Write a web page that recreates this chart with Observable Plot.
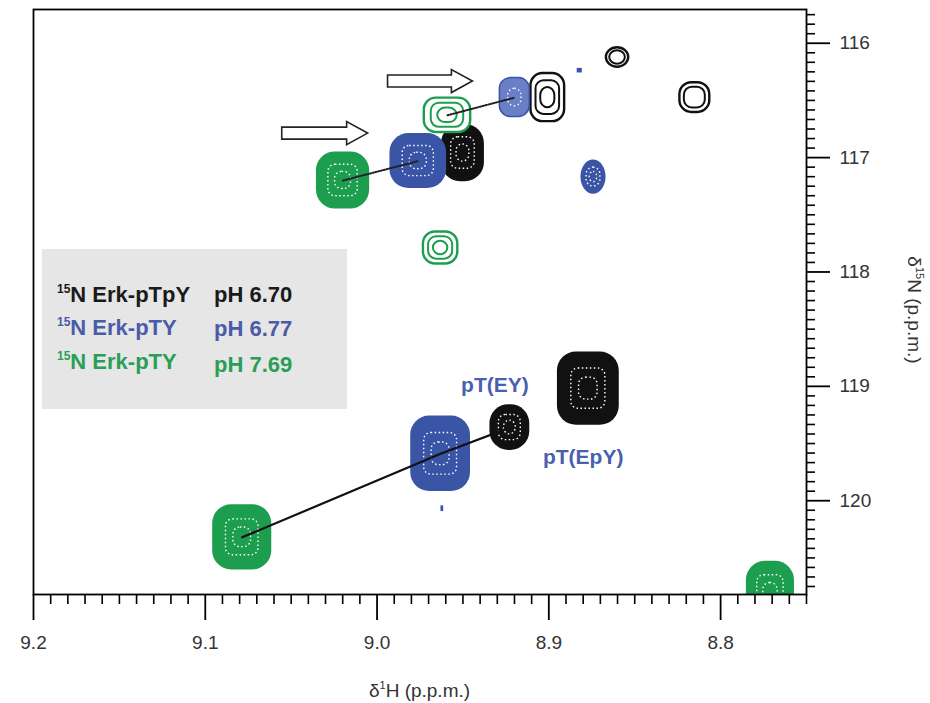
<!DOCTYPE html>
<html><head><meta charset="utf-8">
<script src="https://cdn.jsdelivr.net/npm/d3@7"></script>
<script src="https://cdn.jsdelivr.net/npm/@observablehq/plot@0.6"></script>
<style>
body{margin:0;background:#fff;}
</style></head><body><div id="chart"></div>
<script>
// ---------- data ----------
const sampleNames = ["Erk-pTpY", "Erk-pTY", "Erk-pTY"];
const samplePH = ["pH 6.70", "pH 6.77", "pH 7.69"];

// peak list: sample index, 1H shift, 15N shift, half linewidths (ppm), number of contour levels
const peakSample = [0, 0, 0, 0, 0, 0, 1, 1, 1, 1, 1, 1, 2, 2, 2, 2, 2];
const peakH = [8.860, 8.9006, 8.815, 8.950, 8.877, 8.9227, 8.9198, 8.882, 8.976, 8.874, 8.963, 8.962, 8.959, 9.0198, 8.963, 9.0785, 8.771];
const peakN = [116.125, 116.475, 116.475, 116.96, 119.02, 119.36, 116.475, 116.24, 117.03, 117.17, 119.59, 120.07, 116.63, 117.20, 117.79, 120.32, 120.80];
const peakHalfWH = [0.0065, 0.0098, 0.0087, 0.0125, 0.018, 0.0116, 0.0087, 0.0015, 0.0165, 0.0073, 0.0174, 0.0008, 0.0135, 0.0155, 0.010, 0.0172, 0.014];
const peakHalfWN = [0.085, 0.21, 0.13, 0.25, 0.32, 0.20, 0.17, 0.02, 0.24, 0.15, 0.33, 0.025, 0.15, 0.25, 0.14, 0.285, 0.27];
const peakLevels = [2, 3, 2, 8, 8, 7, 4, 1, 8, 5, 9, 1, 3, 8, 3, 9, 7];

// chemical-shift tracks (peak indices)
const trackPeaks = [[15, 10, 5], [13, 8], [12, 6]];
const trackSolid = [true, false, false];

// arrows (1H start, 1H end, 15N)
const arrowFromH = [8.9936, 9.0552];
const arrowToH = [8.9442, 9.0052];
const arrowN = [116.335, 116.79];

// annotations
const annoText = ["pT(EY)", "pT(EpY)"];
const annoH = [8.9314, 8.880];
const annoN = [118.99, 119.62];

// axes
const xDomain = [9.2, 8.75];
const yDomain = [115.705, 120.82];
const xMajor = [9.2, 9.1, 9.0, 8.9, 8.8];
const yMajor = [116, 117, 118, 119, 120];
const xMinorPerMajor = 10;
const yMinorPerMajor = 12;

// ---------- styles ----------
const sampleColor = ["#111111", "#3b55a6", "#1d9e4f"];
const sampleTextColor = ["#1a1a1a", "#4a5ca8", "#2a9e57"];
const FONT = "'Liberation Sans', Arial, Helvetica, sans-serif";

// ---------- derived contour rectangles ----------
const contourRows = [];
peakH.forEach((h, i) => {
  const L = peakLevels[i], s = peakSample[i];
  const add = (f, kind) => contourRows.push({
    x1: h - peakHalfWH[i] * f, x2: h + peakHalfWH[i] * f,
    y1: peakN[i] - peakHalfWN[i] * f, y2: peakN[i] + peakHalfWN[i] * f,
    s, kind
  });
  if (L === 1) add(1, "tiny");
  else if (L <= 3) {
    [1, 0.7, 0.42].slice(0, L).forEach((f, k) => add(f, k === 0 ? "ringOuter" : "ring"));
  } else if (L <= 4) {
    add(1, "light"); add(0.45, "inner");
  } else {
    add(1, "solid"); add(0.55, "inner"); add(0.3, "inner");
  }
});

const minorX = d3.range(Math.ceil(8.75 * 100), Math.floor(9.2 * 100) + 1)
  .filter(v => v % xMinorPerMajor !== 0).map(v => v / 100);
const minorY = d3.range(Math.ceil(115.705 * yMinorPerMajor), Math.floor(120.82 * yMinorPerMajor) + 1)
  .filter(v => v % yMinorPerMajor !== 0).map(v => v / yMinorPerMajor);

function peakMarks(s) {
  const rows = contourRows.filter(d => d.s === s);
  const c = sampleColor[s];
  const pos = {x1: "x1", x2: "x2", y1: "y1", y2: "y2", clip: true};
  return [
    Plot.rect(rows.filter(d => d.kind === "solid"), {...pos, fill: c, rx: 19}),
    Plot.rect(rows.filter(d => d.kind === "light"), {...pos, fill: s === 1 ? "#6a7fc6" : c, stroke: c, strokeWidth: 1.5, rx: 11}),
    Plot.rect(rows.filter(d => d.kind === "inner"), {...pos, fill: "none", stroke: "white", strokeWidth: 1.4, strokeDasharray: "1.5 2.5", rx: 7}),
    Plot.rect(rows.filter(d => d.kind === "ringOuter"), {...pos, fill: "white", stroke: c, strokeWidth: 2.4, rx: 12}),
    Plot.rect(rows.filter(d => d.kind === "ring"), {...pos, fill: "none", stroke: c, strokeWidth: 2, rx: 8}),
    Plot.rect(rows.filter(d => d.kind === "tiny"), {...pos, fill: c})
  ];
}

const trackRows = trackPeaks.flatMap((t, k) => t.map(i => ({H: peakH[i], N: peakN[i], k})));

function arrowsMark(index, scales) {
  const g = d3.create("svg:g");
  arrowFromH.forEach((h, i) => {
    const x0 = scales.x(h), x1 = scales.x(arrowToH[i]), y = scales.y(arrowN[i]);
    const sh = 6, hh = 11.5, hl = 21, xs = x1 - hl;
    g.append("path")
      .attr("d", `M${x0},${y - sh}L${xs},${y - sh}L${xs},${y - hh}L${x1},${y}L${xs},${y + hh}L${xs},${y + sh}L${x0},${y + sh}Z`)
      .attr("fill", "white").attr("stroke", "#222").attr("stroke-width", 1.6);
  });
  return g.node();
}

function legendMark() {
  const g = d3.create("svg:g").attr("font-family", FONT).attr("font-weight", "bold").attr("text-anchor", "start");
  const x0 = 42, y0 = 249;
  g.append("rect").attr("x", x0).attr("y", y0).attr("width", 305).attr("height", 160).attr("fill", "#e6e6e6");
  const base = [302, 335, 369], basePH = [302, 336, 372];
  sampleNames.forEach((name, i) => {
    const t = g.append("text").attr("x", x0 + 15).attr("y", base[i]).attr("fill", sampleTextColor[i]).attr("font-size", 22);
    t.append("tspan").attr("font-size", 12).attr("dy", -9).text("15");
    t.append("tspan").attr("dy", 9).text("N " + name);
    g.append("text").attr("x", x0 + 172).attr("y", basePH[i]).attr("fill", sampleTextColor[i]).attr("font-size", 22).text(samplePH[i]);
  });
  return g.node();
}

function axisTitlesMark() {
  const g = d3.create("svg:g").attr("font-family", FONT).attr("font-size", 19).attr("fill", "#333").attr("text-anchor", "middle");
  const cx = (33 + 806) / 2;
  const t1 = g.append("text").attr("x", cx).attr("y", 697);
  t1.append("tspan").text("δ");
  t1.append("tspan").attr("font-size", 11).attr("dy", -8).text("1");
  t1.append("tspan").attr("dy", 8).text("H (p.p.m.)");
  const t2 = g.append("text").attr("transform", "translate(908,310) rotate(90)");
  t2.append("tspan").text("δ");
  t2.append("tspan").attr("font-size", 11).attr("dy", -8).text("15");
  t2.append("tspan").attr("dy", 8).text("N (p.p.m.)");
  return g.node();
}

const chart = Plot.plot({
  width: 930,
  height: 703,
  marginLeft: 33,
  marginRight: 124,
  marginTop: 9,
  marginBottom: 109,
  style: {fontFamily: FONT, fontSize: "19px", background: "white", color: "#000"},
  x: {domain: xDomain, axis: null},
  y: {domain: yDomain, reverse: true, axis: null},
  marks: [
    legendMark,
    ...peakMarks(0),
    ...peakMarks(1),
    ...peakMarks(2),
    Plot.line(trackRows.filter(d => trackSolid[d.k]), {x: "H", y: "N", z: "k", stroke: "#111", strokeWidth: 2.2}),
    Plot.line(trackRows.filter(d => !trackSolid[d.k]), {x: "H", y: "N", z: "k", stroke: "#222", strokeWidth: 2, strokeDasharray: "1.2 1.6"}),
    arrowsMark,
    Plot.text(annoText, {x: (d, i) => annoH[i], y: (d, i) => annoN[i], text: d => d, fill: "#4a5fb0", fontWeight: "bold", fontSize: 21}),
    Plot.frame({stroke: "#000", strokeWidth: 1.8}),
    Plot.axisX(xMajor, {anchor: "bottom", tickSize: 26, tickPadding: 15, tickFormat: d => d.toFixed(1), strokeWidth: 1.8, fill: "#333", fontSize: 19, label: null}),
    Plot.axisX(minorX, {anchor: "bottom", tickSize: 10, tickFormat: () => "", strokeWidth: 1.6, label: null}),
    Plot.axisY(yMajor, {anchor: "right", tickSize: 23, tickPadding: 10, tickFormat: d => String(d), strokeWidth: 1.8, fill: "#333", fontSize: 19, label: null}),
    Plot.axisY(minorY, {anchor: "right", tickSize: 8, tickFormat: () => "", strokeWidth: 1.6, label: null}),
    axisTitlesMark
  ]
});
document.getElementById("chart").appendChild(chart);
</script>
</body></html>
